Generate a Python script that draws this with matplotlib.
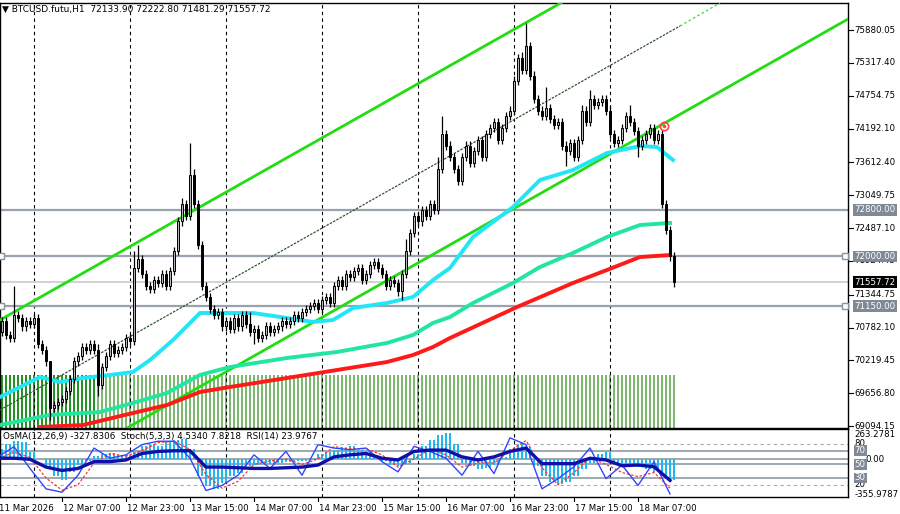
import numpy as np
import matplotlib
matplotlib.use("Agg")
import matplotlib.pyplot as plt

plt.rcParams['font.family'] = ['DejaVu Sans']

close = [70700, 70900, 70650, 70600, 71000, 70950, 70800, 70900, 70850, 70950,
         70500, 70400, 70200, 69400, 69450,
         69500, 69550, 69700, 69900, 70200, 70300,
         70450, 70400, 70500, 70400, 69800, 70100, 70300, 70500, 70350, 70400, 70450, 70600, 70550,
         71800, 71950, 71700, 71500, 71450, 71600, 71550, 71700, 71500, 71750,
         72100, 72600, 72900, 72700, 73400,
         72900, 72200, 71500, 71300, 71100,
         71000, 71050, 70800, 70900, 70750, 70950, 70800, 71000,
         70850, 70700, 70750, 70600, 70650, 70800, 70700, 70750, 70800, 70900, 70850,
         70900, 71000, 70950, 71050, 71100, 71150, 71200, 71100,
         71250, 71300, 71200, 71500, 71600, 71500, 71700, 71650, 71750, 71800, 71600, 71700, 71850, 71900, 71800,
         71700, 71500, 71600, 71550, 71400, 71700,
         72100, 72400, 72700, 72600, 72800,
         72700, 72900, 72800,
         73500, 74100, 73900,
         73700, 73500, 73300, 73700, 73900, 73600, 73800,
         74000, 73700, 74100, 74200, 74300, 74000, 74200, 74400, 74500,
         75000, 75400, 75200, 75600,
         75100, 74700, 74500, 74400, 74550,
         74350, 74250, 74300, 73900, 73800, 73950, 73700, 74000,
         74500, 74300, 74700, 74600, 74650, 74700, 74500,
         74100, 73950, 74000, 74200, 74400, 74300, 74150, 73900,
         74000, 74100, 74200, 74000, 74100,
         72900, 72450, 72000, 71557.72]
first_open = 70600
wick = 70
high_spikes = {4: 71500, 13: 69300, 34: 72100, 35: 72200, 46: 73000, 48: 73950, 49: 73500,
               110: 73700, 111: 74400, 129: 75100, 131: 75500, 132: 76000, 146: 74600,
               148: 74850, 137: 74900, 158: 74600, 63: 71050, 25: 70500, 102: 72300}
low_spikes = {13: 69200, 25: 69600, 64: 70500, 101: 71250, 142: 73550, 160: 73700, 169: 71480}

fast_i = [0.5, 10.5, 15.5, 21.25, 28, 33.75, 38, 43.75, 48, 50.5, 57.25, 63.75, 72.25, 78.75, 83.75,
          88.75, 97.25, 103.75, 108.75, 113, 118.75, 128.75, 135.5, 143.75, 152.25, 160.5, 164.75, 168.75]
fast_v = [69591, 69934, 69848, 69917, 69969, 70020, 70225, 70568, 70859, 71031, 71031, 71031, 70945, 70877, 70911,
          71116, 71202, 71305, 71596, 71802, 72333, 72847, 73310, 73481, 73772, 73892, 73875, 73652]
mid_i = [0.5, 13, 25.5, 33.75, 42.25, 50.5, 58, 72.25, 84.75, 97.25, 103.75, 108.75, 113, 118.75, 128.75,
         135.5, 143.75, 152.25, 160.5, 168]
mid_v = [69111, 69283, 69334, 69489, 69660, 69969, 70105, 70260, 70363, 70517, 70654, 70860, 70962, 71202, 71545,
         71819, 72059, 72333, 72539, 72573]
slow_i = [10.5, 21.25, 33.75, 42.25, 50.5, 58, 72.25, 84.75, 97.25, 103.75, 108.75, 113, 129.75, 143.75, 152.25, 160.5, 168]
slow_v = [69077, 69111, 69317, 69454, 69677, 69763, 69917, 70054, 70191, 70311, 70448, 70602, 71133, 71545, 71768, 71990, 72024]

chan_upper = ([0.5, 142], [70911, 76394])
chan_median = ([0.5, 170.5], [69369, 75949])
chan_median_ext = ([170.5, 180.5], [75949, 76343])
chan_lower = ([32.25, 212.5], [69060, 76068])

levels = [72800.00, 72000.00, 71150.00]
bid = 71557.72
vol_top = 69969

osma = [15, 22, 27, 25, 10, 1, -12, -25, -31, -18, -8, -2, 5, 8, 9, 7, 6, 12, 20, 22, 20, 25, 28, 30, 15,
        -25, -40, -43, -35, -25, -20, -10, -8, -6, -7, -5, -4, -3, -2, 2, 8, 10, 14, 16, 19, 14, 10, 5,
        -3, -8, -10, -6, 8, 20, 28, 35, 39, 22, -5, -10, -14, -13, -8, 4, 15, 22, 18, -10, -25, -34, -37,
        -33, -25, -15, -5, 8, 10, -5, -8, -10, -12, -14, -18, -24, -30]
rsi = [59, 59, 57.5, 46, 41, 44, 54, 54, 56.5, 66, 69, 70, 70, 46, 46, 45, 44, 44, 45, 46, 49, 61, 64, 66,
       59, 56.5, 69, 71, 71, 61, 56.5, 61, 69, 74, 51, 51, 51, 59, 56.5, 48, 49, 46.5, 26.5]
stoch = [61, 76, 44, 14, 9, 34, 74, 59, 64, 79, 84, 84, 59, 11.5, 19, 34, 64, 44, 69, 34, 79, 74, 71.5, 74,
         54, 39, 76.5, 69, 59, 34, 69, 36.5, 89, 79, 14, 29, 46.5, 74, 29, 49, 19, 54, 6.5]
stoch_sig = [58, 68, 60, 30, 12, 20, 52, 66, 62, 70, 82, 84, 72, 35, 15, 25, 50, 55, 58, 50, 58, 76, 73, 73,
             64, 46, 58, 72, 64, 46, 52, 52, 70, 85, 45, 20, 38, 60, 50, 38, 32, 38, 15]

price_ticks = [75880.05, 75317.40, 74754.75, 74192.10, 73612.40, 73049.75, 72487.10, 71924.45,
               71344.75, 70782.10, 70219.45, 69656.80, 69094.15]
time_labels = ["11 Mar 2026", "12 Mar 07:00", "12 Mar 23:00", "13 Mar 15:00", "14 Mar 07:00",
               "14 Mar 23:00", "15 Mar 15:00", "16 Mar 07:00", "16 Mar 23:00", "17 Mar 15:00", "18 Mar 07:00"]
day_lines = [9, 33, 57, 81, 105, 129, 153]

W, H = 900, 514
fig = plt.figure(figsize=(9, 5.14), dpi=100)
ax = fig.add_axes([0, 1 - 428 / H, 848 / W, 425 / H])
sub = fig.add_axes([0, 1 - 497 / H, 848 / W, 68 / H])
XL = (0.5, 212.5)
ax.set_xlim(*XL); sub.set_xlim(*XL)
ax.set_ylim(69060, 76343)
sub.set_ylim(2, 102)

n = len(close)
idx = np.arange(n)
opens = [first_open] + close[:-1]
for i in idx:
    col = '#1f8f1f' if i < 25 else '#7ab86e'
    ax.vlines(i, 69060, vol_top, color=col, lw=1.4, zorder=1)

for d in day_lines:
    ax.axvline(d, color='black', ls=(0, (3, 3)), lw=0.8, zorder=2)
    sub.axvline(d, color='black', ls=(0, (3, 3)), lw=0.8, zorder=2)

for lv in levels:
    ax.axhline(lv, color='#9aa3ad', lw=1.6, zorder=2)
ax.axhline(bid, color='#cfd3d6', lw=1.4, zorder=2)
for lv in levels[1:]:
    ax.plot([0.7], [lv], marker='s', ms=4, mfc='white', mec='#8a939c', zorder=3, clip_on=False)
    ax.plot([211.8], [lv], marker='s', ms=4, mfc='white', mec='#8a939c', zorder=3, clip_on=False)

ax.plot(*chan_upper, color='#22dd11', lw=2, zorder=3)
ax.plot(*chan_lower, color='#22dd11', lw=2, zorder=3)
ax.plot(*chan_median, color='#335533', lw=0.9, ls=(0, (2, 1)), zorder=3)
ax.plot(*chan_median_ext, color='#33dd33', lw=0.9, ls=(0, (2, 2)), zorder=3)

ax.plot(slow_i, slow_v, color='#ff1a1a', lw=2.8, zorder=4, solid_joinstyle='round')
ax.plot(mid_i, mid_v, color='#22e6a0', lw=2.8, zorder=4, solid_joinstyle='round')
ax.plot(fast_i, fast_v, color='#22e6f5', lw=2.8, zorder=4, solid_joinstyle='round')

for i in idx:
    o, c = opens[i], close[i]
    hi = max(high_spikes.get(i, max(o, c) + wick), max(o, c))
    lo = min(low_spikes.get(i, min(o, c) - wick), min(o, c))
    ax.vlines(i, lo, hi, color='black', lw=0.9, zorder=5)
    up = c >= o
    ax.bar(i, max(abs(c - o), 15), bottom=min(o, c), width=0.65,
           color='#b5b5b5' if up else 'black', edgecolor='black', lw=0.7, zorder=6)

ax.plot([166.5], [74240], marker='o', ms=6, mfc='none', mec='#ff4444', mew=1.2, zorder=7)
ax.plot([166.5], [74240], marker='o', ms=1.5, color='#ff4444', zorder=7)

zero = 57.5
ok = np.arange(len(osma))
for k, v in zip(ok, osma):
    for j in (2 * k, 2 * k + 1):
        sub.bar(j, v, bottom=zero, width=0.6, color='#1fb8ee', zorder=2)
for lv in (70, 50, 30):
    sub.axhline(lv, color='#8e99a4', lw=1.2, zorder=1)
sub.axhline(zero, color='#8e99a4', lw=1.2, zorder=1)
for lv in (80, 20):
    sub.axhline(lv, color='#aaaaaa', lw=0.8, ls=(0, (3, 3)), zorder=1)
ri = np.arange(len(rsi)) * 4
sub.plot(ri, stoch_sig, color='#ff3333', lw=0.9, ls=(0, (2, 1.5)), zorder=3)
sub.plot(ri, stoch, color='#3344ff', lw=1.0, zorder=3)
sub.plot(ri, rsi, color='#1010a8', lw=2.4, zorder=4)

for a in (ax, sub):
    a.set_xticks([]); a.set_yticks([])
    for s in a.spines.values():
        s.set_color('black'); s.set_linewidth(1)

fs = 6.2
trans = ax.get_yaxis_transform()
for p in price_ticks:
    ax.plot([1.0, 1.006], [p, p], color='black', lw=0.8, transform=trans, clip_on=False)
    ax.text(1.008, p, f"{p:.2f}", transform=trans, va='center', ha='left', fontsize=fs)
for lv in levels:
    ax.text(1.008, lv, f"{lv:.2f}", transform=trans, va='center', ha='left', fontsize=fs, color='white',
            bbox=dict(boxstyle='square,pad=0.15', fc='#7f8a96', ec='none'), zorder=10)
ax.text(1.008, bid, f"{bid:.2f}", transform=trans, va='center', ha='left', fontsize=fs, color='white',
        bbox=dict(boxstyle='square,pad=0.15', fc='black', ec='none'), zorder=10)

st = sub.get_yaxis_transform()
sub.text(1.008, 94, "263.2781", transform=st, va='center', ha='left', fontsize=fs)
sub.text(1.008, 6, "-355.9787", transform=st, va='center', ha='left', fontsize=fs)
for lv in (80, 20):
    sub.text(1.008, lv, str(lv), transform=st, va='center', ha='left', fontsize=fs)
sub.text(1.02, zero, "0.00", transform=st, va='center', ha='left', fontsize=fs)
for lv in (70, 50, 30):
    sub.text(1.008, lv, str(lv), transform=st, va='center', ha='left', fontsize=fs, color='white',
             bbox=dict(boxstyle='square,pad=0.1', fc='#7f8a96', ec='none'), zorder=10)

xt = sub.get_xaxis_transform()
for k, lab in enumerate(time_labels):
    x = k * 16
    sub.plot([x, x], [0, -0.06], color='black', lw=0.8, transform=xt, clip_on=False)
    sub.text(x + 0.3, -0.1, lab, transform=xt, va='top', ha='left', fontsize=fs)

ax.text(0.002, 0.995, "\u25BC BTCUSD.futu,H1  72133.90 72222.80 71481.29 71557.72",
        transform=ax.transAxes, va='top', ha='left', fontsize=6.5, zorder=10)
sub.text(0.003, 0.95, "OsMA(12,26,9) -327.8306  Stoch(5,3,3) 4.5340 7.8218  RSI(14) 23.9767",
         transform=sub.transAxes, va='top', ha='left', fontsize=6.3, zorder=10)

fig.savefig("out.png", dpi=100)
